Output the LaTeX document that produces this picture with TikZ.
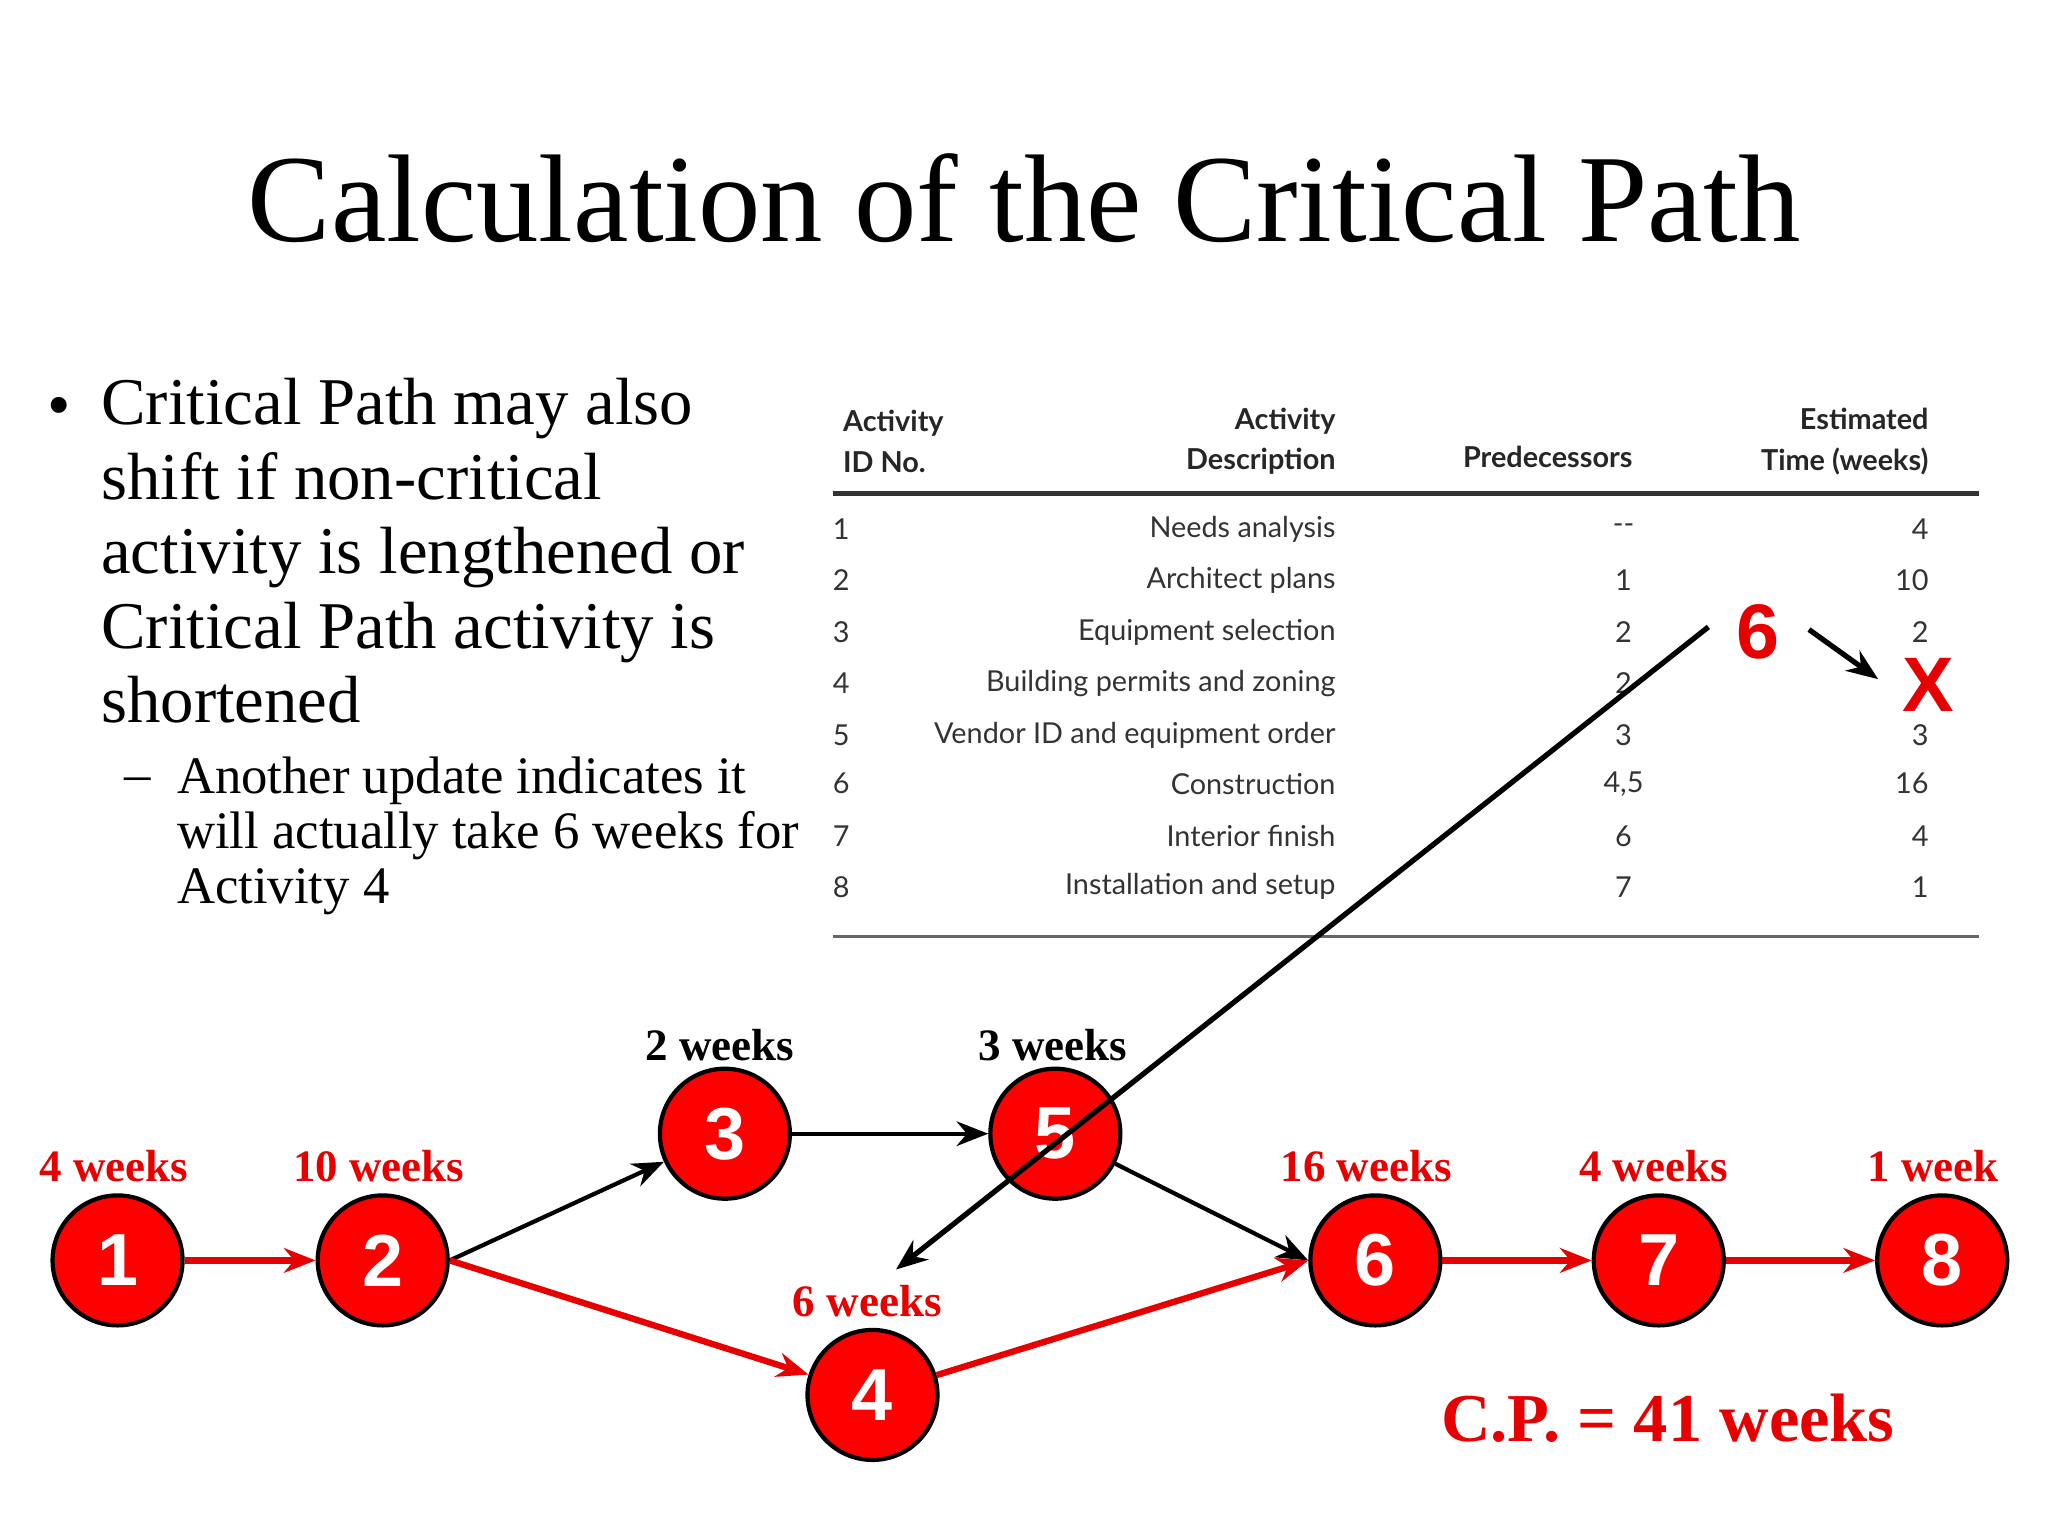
\documentclass[tikz,border=0pt]{standalone}
\usepackage{fontspec}
\setmainfont{Liberation Serif}
\newfontfamily\tabfont{Lato}
\newfontfamily\arialf{Liberation Sans}
\usetikzlibrary{arrows.meta}
\definecolor{cpred}{RGB}{230,0,0}
\tikzset{
  ev/.style={circle,draw=black,line width=1.2pt,fill=red,minimum size=1.3cm,inner sep=0pt,text=white,font=\arialf\bfseries\fontsize{21}{21}\selectfont},
  wk/.style={font=\bfseries\fontsize{12.8}{12.8}\selectfont},
  crit/.style={draw=cpred,line width=1.8pt,-{Stealth[length=9pt,width=7pt]}},
  norm/.style={draw=black,line width=1.2pt,-{Stealth[length=9pt,width=7pt]}},
  tb/.style={font=\tabfont\fontsize{8.2}{8.2}\selectfont,text=black!80},
  th/.style={font=\tabfont\bfseries\fontsize{8.2}{11.5}\selectfont,text=black!85}
}
\begin{document}
\begin{tikzpicture}[x=0.013061cm,y=-0.013061cm]
\useasboundingbox (0,0) rectangle (1568,1176);
\node (title) at (784,152) {\fontsize{35.5}{35.5}\selectfont Calculation of the Critical Path};
\node[anchor=base west,font=\fontsize{19}{21.2}\selectfont,inner sep=0pt] (b1) at (36,327) {\textbullet};
\node[anchor=north west,align=left,font=\fontsize{19}{21.2}\selectfont,inner sep=0pt] (bt) at (77,289) {Critical Path may also\\shift if non-critical\\activity is lengthened or\\Critical Path activity is\\shortened};
\node[anchor=base west,font=\fontsize{15}{15}\selectfont,inner sep=0pt] (d1) at (95,606) {--};
\node[anchor=north west,align=left,font=\fontsize{15}{15.7}\selectfont,inner sep=0pt] (st) at (135,579) {Another update indicates it\\will actually take 6 weeks for\\Activity 4};
% table
\node[th,anchor=west,align=left] (h1) at (636,338) {Activity\\ID No.};
\node[th,anchor=east,align=right] (h2) at (1032,338) {Activity\\Description};
\node[th,anchor=base] (h3) at (1185,358) {Predecessors};
\node[th,anchor=east,align=right] (h4) at (1486,338) {Estimated\\Time (weeks)};
\draw[line width=1.5pt,black!80] (638,378) -- (1515,378);
\draw[line width=0.7pt,black!60] (638,717) -- (1515,717);
\foreach \i/\d/\p/\t/\y in {1/Needs analysis/--/4/405,2/Architect plans/1/10/444,3/Equipment selection/2/2/484,4/Building permits and zoning/2/{}/523,5/Vendor ID and equipment order/3/3/563,6/Construction/{4,5}/16/600,7/Interior finish/6/4/640,8/Installation and setup/7/1/679}{
  \node[tb] (r\i a) at (644,\y) {\i};
  \node[tb,anchor=east] (r\i b) at (1032,\y) {\d};
  \node[tb] (r\i c) at (1243,\y) {\p};
  \node[tb,anchor=east] (r\i d) at (1486,\y) {\t};
}
\node[text=cpred,font=\arialf\bfseries\fontsize{22}{22}\selectfont] (six) at (1346,484) {6};
\node[text=cpred,font=\arialf\bfseries\fontsize{22}{22}\selectfont] (xx) at (1476,524) {X};
\draw[norm,line width=1.5pt] (1385,482) -- (1438,520);
% network
\node[ev] (n1) at (90,965) {1};
\node[ev] (n2) at (293,965) {2};
\node[ev] (n3) at (555,868) {3};
\node[ev] (n5) at (808,868) {5};
\node[ev] (n4) at (668,1068) {4};
\node[ev] (n6) at (1053,965) {6};
\node[ev] (n7) at (1270,965) {7};
\node[ev] (n8) at (1487,965) {8};
\draw[crit] (n1) -- (n2);
\draw[norm] (n2.east) -- (n3);
\draw[norm] (n3) -- (n5);
\draw[norm] (n5) -- (n6.west);
\draw[crit] (n2.east) -- (n4);
\draw[crit] (n4) -- (n6.west);
\draw[crit] (n6) -- (n7);
\draw[crit] (n7) -- (n8);
\coordinate (ls) at (1308,480);
\coordinate (le) at (686,972);
\draw[norm,line width=1.5pt] (ls) -- (le);
\node[wk,text=cpred] (w1) at (87,893) {4 weeks};
\node[wk,text=cpred] (w2) at (290,893) {10 weeks};
\node[wk] (w3) at (551,800) {2 weeks};
\node[wk] (w5) at (806,800) {3 weeks};
\node[wk,text=cpred] (w4) at (664,996) {6 weeks};
\node[wk,text=cpred] (w6) at (1046,893) {16 weeks};
\node[wk,text=cpred] (w7) at (1266,893) {4 weeks};
\node[wk,text=cpred] (w8) at (1480,893) {1 week};
\node[text=cpred,font=\bfseries\fontsize{19.5}{19.5}\selectfont] (cp) at (1277,1086) {C.P. = 41 weeks};
\end{tikzpicture}
\end{document}
